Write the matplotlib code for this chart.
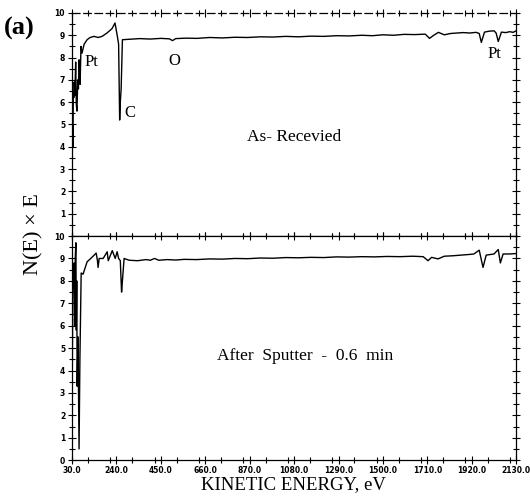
import matplotlib
matplotlib.use("Agg")
import matplotlib.pyplot as plt
from matplotlib.ticker import MultipleLocator, FixedLocator

# As-received spectrum (kinetic energy in eV, N(E) x E)
top_energy = [30, 31, 32, 34, 36, 38, 40, 43, 47, 50, 53, 57, 60, 63, 66, 68,
              72, 77, 87, 101, 115, 134, 153, 172, 195, 219, 233, 245, 250,
              255, 258, 262, 268, 300, 350, 400, 450, 490, 505, 520, 570, 620,
              680, 740, 800, 860, 920, 980, 1040, 1100, 1160, 1220, 1280, 1340,
              1400, 1450, 1500, 1550, 1600, 1650, 1700, 1720, 1740, 1762, 1790,
              1820, 1850, 1880, 1910, 1940, 1955, 1965, 1980, 2000, 2025, 2035,
              2045, 2060, 2080, 2100, 2115, 2130]
top_counts = [4.5, 3.4, 5.0, 4.0, 6.5, 6.2, 6.9, 6.3, 7.8, 5.9, 5.6, 7.0, 6.6,
              7.9, 7.3, 6.8, 8.5, 8.2, 8.6, 8.8, 8.9, 8.95, 8.9, 8.95, 9.1, 9.3,
              9.55, 8.9, 8.6, 5.2, 6.0, 6.6, 8.8, 8.82, 8.85, 8.83, 8.86, 8.84,
              8.76, 8.85, 8.87, 8.86, 8.9, 8.88, 8.91, 8.9, 8.93, 8.92, 8.95,
              8.93, 8.96, 8.95, 8.98, 8.97, 9.0, 8.98, 9.02, 9.0, 9.04, 9.03,
              9.05, 8.86, 9.0, 9.13, 9.02, 9.08, 9.1, 9.12, 9.1, 9.13, 9.08,
              8.68, 9.14, 9.18, 9.2, 9.1, 8.72, 9.14, 9.12, 9.16, 9.13, 9.2]

# After sputter 0.6 min
bot_energy = [30, 31, 33, 36, 39, 42, 45, 48, 50, 52, 54, 58, 63, 67, 73, 82,
              101, 125, 144, 150, 153, 158, 177, 196, 201, 220, 234, 243, 250,
              258, 264, 268, 276, 300, 340, 380, 400, 420, 440, 480, 520, 560,
              620, 680, 740, 800, 860, 920, 980, 1040, 1100, 1160, 1220, 1280,
              1340, 1400, 1460, 1520, 1580, 1640, 1690, 1713, 1730, 1760, 1790,
              1830, 1870, 1910, 1930, 1955, 1973, 1988, 2025, 2045, 2055, 2068,
              2100, 2130]
bot_counts = [8.6, 4.0, 7.5, 8.6, 8.8, 6.0, 9.0, 9.7, 5.8, 8.0, 3.3, 5.5, 0.5,
              4.5, 8.35, 8.3, 8.85, 9.06, 9.24, 8.9, 8.6, 9.0, 9.0, 9.3, 8.9,
              9.35, 9.0, 9.3, 9.0, 8.9, 7.5, 8.0, 9.0, 8.92, 8.9, 8.95, 8.92,
              9.0, 8.92, 8.95, 8.93, 8.96, 8.95, 8.98, 8.97, 9.0, 8.99, 9.02,
              9.01, 9.04, 9.03, 9.05, 9.04, 9.07, 9.06, 9.08, 9.07, 9.09, 9.08,
              9.1, 9.08, 8.9, 9.05, 8.98, 9.1, 9.12, 9.15, 9.18, 9.2, 9.37, 8.6,
              9.15, 9.2, 9.4, 8.8, 9.2, 9.2, 9.22]

x_ticks = [30, 240, 450, 660, 870, 1080, 1290, 1500, 1710, 1920, 2130]
x_ticklabels = ["30.0", "240.0", "450.0", "660.0", "870.0", "1080.0",
                "1290.0", "1500.0", "1710.0", "1920.0", "2130.0"]

serif = "Liberation Serif"

fig = plt.figure(figsize=(5.3, 4.98), dpi=100)
ax1 = fig.add_axes([0.136, 0.526, 0.838, 0.448])
ax2 = fig.add_axes([0.136, 0.076, 0.838, 0.450])

for ax in (ax1, ax2):
    ax.set_xlim(30, 2130)
    ax.set_ylim(0, 10)
    ax.xaxis.set_major_locator(FixedLocator(x_ticks))
    ax.xaxis.set_minor_locator(MultipleLocator(105))
    ax.yaxis.set_major_locator(MultipleLocator(1))
    ax.yaxis.set_minor_locator(MultipleLocator(0.5))
    ax.tick_params(which="both", direction="inout", top=True, right=True,
                   width=0.8, colors="black")
    ax.tick_params(which="major", length=6, pad=2)
    ax.tick_params(which="minor", length=4)
    for s in ax.spines.values():
        s.set_linewidth(0.9)

ax1.plot(top_energy, top_counts, color="black", lw=1.0)
ax2.plot(bot_energy, bot_counts, color="black", lw=1.0)

ax1.set_xticklabels([])
ax1.set_yticks(range(1, 11))
ax1.set_yticklabels([str(i) for i in range(1, 11)], fontsize=5.5,
                    fontweight="bold")
ax1.spines["top"].set_linestyle((0, (6, 3)))

ax2.set_yticks(range(0, 11))
ax2.set_yticklabels([str(i) for i in range(0, 11)], fontsize=5.5,
                    fontweight="bold")
ax2.set_xticklabels(x_ticklabels, fontsize=5.5, fontweight="bold")
ax2.tick_params(axis="x", which="major", pad=1)

ax1.text(89, 7.8, "Pt", family=serif, fontsize=12, va="center")
ax1.text(276, 5.5, "C", family=serif, fontsize=12, va="center")
ax1.text(486, 7.85, "O", family=serif, fontsize=12, va="center")
ax1.text(1992, 8.15, "Pt", family=serif, fontsize=12, va="center")
ax1.text(1078, 4.46, "As- Recevied", family=serif, fontsize=12.5,
         ha="center", va="center")
ax2.text(1134, 4.64, "After  Sputter  -  0.6  min", family=serif,
         fontsize=12.5, ha="center", va="center")

fig.text(0.553, 0.026, "KINETIC ENERGY, eV", family=serif, fontsize=13.5,
         ha="center", va="center")
fig.text(0.063, 0.53, "N(E) × E", family=serif, fontsize=16,
         rotation=90, ha="center", va="center")
fig.text(0.008, 0.942, "(a)", family=serif, fontsize=19, fontweight="bold",
         va="center")

fig.savefig("out.png", dpi=100)
